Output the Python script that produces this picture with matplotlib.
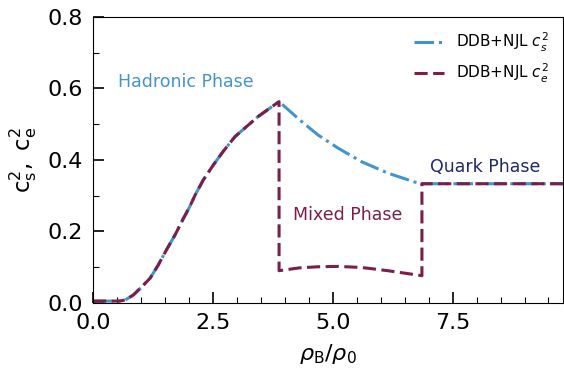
"""Speed of sound and effective sound speed across the phase transition."""

import matplotlib

matplotlib.use("Agg")
import matplotlib.pyplot as plt
from matplotlib.ticker import MultipleLocator

# hadronic branch (both quantities coincide)
rho_had = [0.0, 0.3, 0.55, 0.67, 0.84, 1.01, 1.19, 1.36, 1.53, 1.71, 1.88,
           2.02, 2.13, 2.30, 2.51, 2.71, 2.96, 3.20, 3.44, 3.69, 3.88]
cs2_had = [0.005, 0.005, 0.005, 0.008, 0.022, 0.044, 0.069, 0.106, 0.148, 0.19, 0.235,
           0.27, 0.302, 0.344, 0.386, 0.423, 0.465, 0.493, 0.521, 0.545, 0.563]

# mixed phase
rho_mix = [3.88, 4.31, 4.69, 5.11, 5.60, 6.15, 6.71, 6.86]
cs2_mix = [0.563, 0.512, 0.470, 0.433, 0.395, 0.363, 0.338, 0.334]
ce2_mix = [0.090, 0.098, 0.101, 0.102, 0.099, 0.090, 0.079, 0.076]

# quark branch
rho_qrk = [6.86, 9.8]
cs2_qrk = [1 / 3, 1 / 3]

BLUE = "#4393cf"
MAROON = "#7a1f4a"
NAVY = "#1f2766"

rho_s = rho_had + rho_mix[1:] + rho_qrk
cs2 = cs2_had + cs2_mix[1:] + cs2_qrk
rho_e = rho_had + rho_mix + rho_qrk
ce2 = cs2_had + ce2_mix + cs2_qrk

fig = plt.figure(figsize=(5.64, 3.68), dpi=100)
ax = fig.add_axes([0.165, 0.177, 0.833, 0.777])

ax.plot(rho_s, cs2, color=BLUE, lw=2.2, ls="-.", label=r"DDB+NJL $c_s^2$")
ax.plot(rho_e, ce2, color=MAROON, lw=2.2, ls=(0, (4.3, 1.8)), label=r"DDB+NJL $c_e^2$")

ax.text(0.52, 0.618, "Hadronic Phase", color=BLUE, fontsize=12.5, va="center")
ax.text(4.17, 0.246, "Mixed Phase", color=MAROON, fontsize=12.5, va="center")
ax.text(7.02, 0.38, "Quark Phase", color=NAVY, fontsize=12.5, va="center")

ax.set_xlim(0, 9.8)
ax.set_ylim(0, 0.8)
ax.xaxis.set_major_locator(MultipleLocator(2.5))
ax.xaxis.set_minor_locator(MultipleLocator(0.5))
ax.yaxis.set_major_locator(MultipleLocator(0.2))
ax.yaxis.set_minor_locator(MultipleLocator(0.1))
ax.tick_params(which="both", direction="in", labelsize=16, pad=7.5)
ax.tick_params(which="major", length=8, width=1.2)
ax.tick_params(which="minor", length=4, width=0.8)

ax.set_xlabel(r"$\rho_\mathrm{B}/\rho_0$", fontsize=16, labelpad=6)
ax.set_ylabel(r"$\mathrm{c_s^2,\ c_e^2}$", fontsize=16.5, labelpad=6)

ax.legend(loc="upper right", frameon=False, fontsize=11, handlelength=2.0)

fig.savefig("out.png", dpi=100)
